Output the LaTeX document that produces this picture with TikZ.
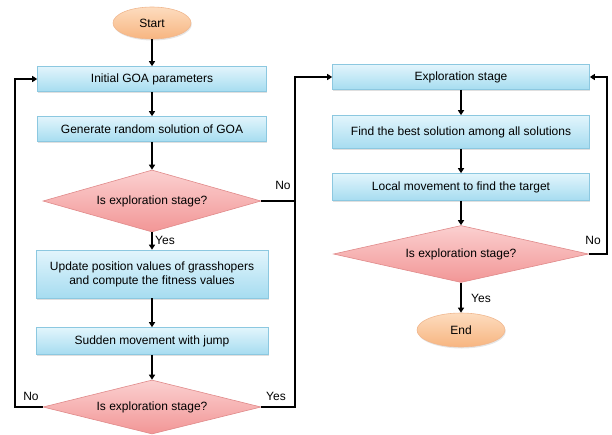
\documentclass[tikz,border=0pt]{standalone}
\usepackage{fontspec}
\setmainfont{Liberation Sans}
\usetikzlibrary{shapes.geometric,shadows,arrows.meta}
\definecolor{boxtop}{HTML}{E2F5FC}
\definecolor{boxbot}{HTML}{A6DCF0}
\definecolor{boxline}{HTML}{8CC8E0}
\definecolor{dtop}{HTML}{FBD0D0}
\definecolor{dbot}{HTML}{F29696}
\definecolor{dline}{HTML}{E08A8A}
\definecolor{etop}{HTML}{FDDCBF}
\definecolor{ebot}{HTML}{F7B580}
\definecolor{eline}{HTML}{F0B890}
\tikzset{
  procbox/.style={rectangle, draw=boxline, line width=0.6pt, top color=boxtop, bottom color=boxbot,
    inner sep=2pt, align=center, font=\fontsize{12}{14}\selectfont,
    drop shadow={opacity=0.25, shadow xshift=0.8pt, shadow yshift=-1.5pt}},
  decbox/.style={diamond, draw=dline, line width=0.6pt, top color=dtop, bottom color=dbot,
    inner sep=0pt, shape aspect=3.6, font=\fontsize{12}{14}\selectfont},
  termbox/.style={ellipse, draw=eline, line width=0.6pt, top color=etop, bottom color=ebot,
    inner sep=0pt, font=\fontsize{12}{14}\selectfont,
    drop shadow={opacity=0.2, shadow xshift=0.8pt, shadow yshift=-1.5pt}},
  conn/.style={draw=black, line width=1.8pt, -{Triangle[length=5pt,width=6pt]}},
  plain/.style={draw=black, line width=1.8pt},
  lbl/.style={font=\fontsize{12}{14}\selectfont, inner sep=0pt}
}
\begin{document}
\begin{tikzpicture}[x=1pt,y=-1pt]
\useasboundingbox (0,0) rectangle (612,434);
% left column
\node[termbox, minimum width=78, minimum height=32] (start) at (152,23) {Start};
\node[procbox, minimum width=229, minimum height=25] (init) at (152,79) {Initial GOA parameters};
\node[procbox, minimum width=229, minimum height=25] (gen) at (152,129) {Generate random solution of GOA};
\node[decbox, minimum width=218, minimum height=62] (d1) at (152,201) {Is exploration stage?};
\node[procbox, minimum width=232, minimum height=48] (upd) at (152,274) {Update position values of grasshopers\\and compute the fitness values};
\node[procbox, minimum width=232, minimum height=27] (sud) at (152,341) {Sudden movement with jump};
\node[decbox, minimum width=218, minimum height=54] (d2) at (152,407) {Is exploration stage?};
% right column
\node[procbox, minimum width=257, minimum height=25] (expl) at (461,77) {Exploration stage};
\node[procbox, minimum width=257, minimum height=33] (best) at (461,132) {Find the best solution among all solutions};
\node[procbox, minimum width=257, minimum height=27] (loc) at (461,187) {Local movement to find the target};
\node[decbox, minimum width=255, minimum height=57] (d3) at (461,254) {Is exploration stage?};
\node[termbox, minimum width=88, minimum height=34] (end) at (461,330) {End};
% coordinates
\coordinate (j1) at (295,201);
\coordinate (j1top) at (295,77);
\coordinate (j2) at (295,407);
\coordinate (l1) at (15,407);
\coordinate (l1top) at (15,79);
\coordinate (r1) at (607,254);
\coordinate (r1top) at (607,77);
% arrows
\draw[conn] (start) -- (init);
\draw[conn] (init) -- (gen);
\draw[conn] (gen) -- (d1);
\draw[conn] (d1) -- (upd);
\draw[conn] (upd) -- (sud);
\draw[conn] (sud) -- (d2);
\draw[conn] (expl) -- (best);
\draw[conn] (best) -- (loc);
\draw[conn] (loc) -- (d3);
\draw[conn] (d3) -- (end);
\draw[plain] (d1.east) -- (j1);
\draw[conn] (j1) -- (j1top) -- (expl.west);
\draw[plain] (d2.east) -- (j2) -- (j1);
\draw[conn] (d2.west) -- (l1) -- (l1top) -- (init.west);
\draw[conn] (d3.east) -- (r1) -- (r1top) -- (expl.east);
% labels
\node[lbl] (no1) at (283,185) {No};
\node[lbl] (yes1) at (165,240) {Yes};
\node[lbl] (no2) at (31,396) {No};
\node[lbl] (yes2) at (276,396) {Yes};
\node[lbl] (no3) at (593,240) {No};
\node[lbl] (yes3) at (481,298) {Yes};
\end{tikzpicture}
\end{document}
